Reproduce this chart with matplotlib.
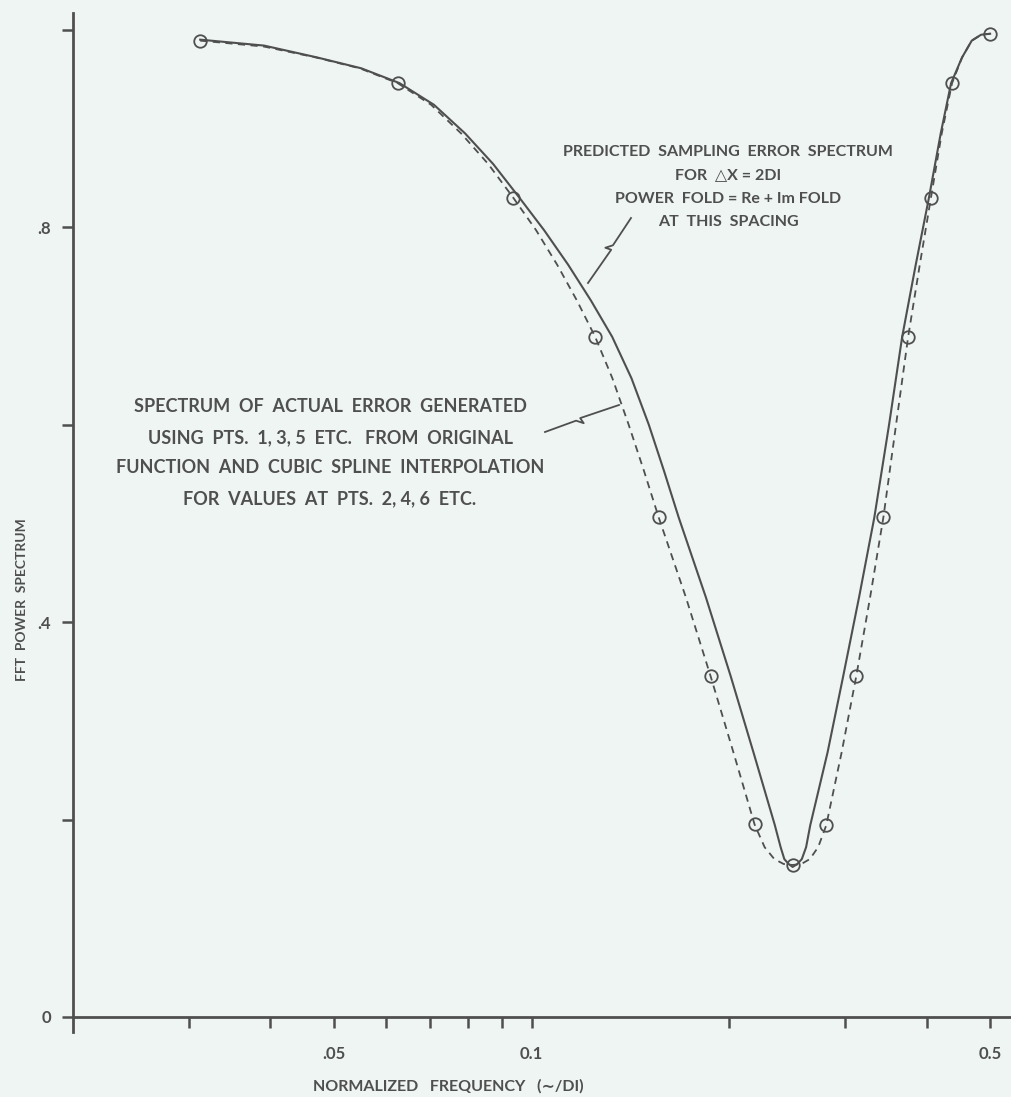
import matplotlib
matplotlib.use("Agg")
import matplotlib.pyplot as plt
from matplotlib.lines import Line2D
from matplotlib.ticker import FixedLocator, FixedFormatter, NullFormatter

########################################
# data
########################################

# sample points (circles), normalized frequency k/32
circle_freq = [0.03125, 0.0625, 0.09375, 0.125, 0.15625, 0.1875, 0.21875, 0.25,
               0.28125, 0.3125, 0.34375, 0.375, 0.40625, 0.4375, 0.5]
circle_power = [0.989, 0.946, 0.830, 0.689, 0.506, 0.345, 0.195, 0.154,
                0.194, 0.345, 0.506, 0.689, 0.830, 0.946, 0.996]

# dashed curve: spectrum of actual error
actual_freq = [0.03125, 0.0391, 0.0469, 0.0547, 0.0625, 0.0703, 0.0781, 0.0859,
               0.09375, 0.1016, 0.1094, 0.1172, 0.125, 0.1328, 0.1406, 0.1484,
               0.15625, 0.1719, 0.1875, 0.2031, 0.21875, 0.2266, 0.2344, 0.2422,
               0.25, 0.2578, 0.2656, 0.2734, 0.28125, 0.2969, 0.3125, 0.3281,
               0.34375, 0.3594, 0.375, 0.3906, 0.40625, 0.4219, 0.4375, 0.4531,
               0.46875, 0.4844, 0.5]
actual_power = [0.989, 0.983, 0.972, 0.961, 0.946, 0.924, 0.895, 0.864,
                0.830, 0.797, 0.762, 0.726, 0.689, 0.647, 0.600, 0.553,
                0.506, 0.425, 0.345, 0.268, 0.195, 0.172, 0.160, 0.155,
                0.154, 0.155, 0.160, 0.172, 0.194, 0.268, 0.345, 0.425,
                0.506, 0.600, 0.689, 0.762, 0.830, 0.895, 0.946, 0.972,
                0.989, 0.995, 0.996]

# solid curve: predicted sampling error spectrum
pred_freq = [0.03125, 0.0391, 0.0471, 0.0550, 0.0629, 0.0710, 0.0792, 0.0874,
             0.0958, 0.1045, 0.1137, 0.1231, 0.1327, 0.1420, 0.1509, 0.1592,
             0.1676, 0.1844, 0.2012, 0.2179, 0.2347, 0.2397, 0.2428, 0.2465,
             0.2500, 0.2542, 0.2582, 0.2621, 0.2659, 0.2826, 0.2985, 0.3156,
             0.3330, 0.3507, 0.3672, 0.3851, 0.4034, 0.4204, 0.4360, 0.4531,
             0.46875, 0.4844, 0.5]
pred_power = [0.990, 0.984, 0.972, 0.961, 0.946, 0.924, 0.895, 0.864,
              0.830, 0.797, 0.762, 0.726, 0.689, 0.647, 0.600, 0.553,
              0.506, 0.425, 0.345, 0.268, 0.195, 0.172, 0.160, 0.155,
              0.152, 0.155, 0.160, 0.172, 0.194, 0.268, 0.345, 0.425,
              0.506, 0.600, 0.689, 0.762, 0.830, 0.895, 0.946, 0.972,
              0.989, 0.995, 0.996]

x_major = [0.05, 0.1, 0.5]
x_major_labels = [".05", "0.1", "0.5"]
x_minor = [0.03, 0.04, 0.06, 0.07, 0.08, 0.09, 0.2, 0.3, 0.4]
y_ticks = [0, 0.2, 0.4, 0.6, 0.8, 1.0]
y_tick_labels = ["0", "", ".4", "", ".8", ""]

pred_text = ["PREDICTED  SAMPLING  ERROR  SPECTRUM",
             "FOR  \u25b3X = 2DI",
             "POWER  FOLD = Re + Im FOLD",
             "AT  THIS  SPACING"]
actual_text = ["SPECTRUM  OF  ACTUAL  ERROR  GENERATED",
               "USING  PTS.  1, 3, 5  ETC.   FROM  ORIGINAL",
               "FUNCTION  AND  CUBIC  SPLINE  INTERPOLATION",
               "FOR  VALUES  AT  PTS.  2, 4, 6  ETC."]

########################################
# style
########################################

W, H = 1011, 1097
BG = "#eef5f3"
INK = "#4f4f4f"
FONT = ["Lato", "DejaVu Sans"]
plt.rcParams["font.family"] = FONT


def px(x, y):
    # pixel position of the reference -> figure fraction
    return x / W, 1 - y / H


def leader(fig, x0, y0, x1, y1):
    # straight leader with a small lightning kink in the middle
    dx, dy = x1 - x0, y1 - y0
    ln = (dx ** 2 + dy ** 2) ** 0.5
    nx, ny = -dy / ln, dx / ln
    a = (x0 + 0.42 * dx, y0 + 0.42 * dy)
    b = (x0 + 0.50 * dx + 5 * nx, y0 + 0.50 * dy + 5 * ny)
    c = (x0 + 0.48 * dx - 1 * nx, y0 + 0.48 * dy - 1 * ny)
    pts = [(x0, y0), a, b, c, (x1, y1)]
    xs = [p[0] / W for p in pts]
    ys = [1 - p[1] / H for p in pts]
    fig.add_artist(Line2D(xs, ys, transform=fig.transFigure, color=INK, lw=1.3))


fig = plt.figure(figsize=(W / 100, H / 100), dpi=100, facecolor=BG)
ax = fig.add_axes([73 / W, 1 - 1032 / H, 1 - 73 / W, (1032 - 13) / H])
ax.set_facecolor(BG)

ax.plot(pred_freq, pred_power, color=INK, lw=1.5, solid_joinstyle="round")
ax.plot(actual_freq, actual_power, color=INK, lw=1.3, linestyle=(0, (4, 3)))
ax.plot(circle_freq, circle_power, linestyle="none", marker="o", ms=9,
        mfc="none", mec=INK, mew=1.3)

ax.set_xscale("log")
ax.set_xlim(0.02, 0.538)
ax.set_ylim(-0.0152, 1.017)

for s in ["top", "right"]:
    ax.spines[s].set_visible(False)
ax.spines["bottom"].set_position(("data", 0))
for s in ["left", "bottom"]:
    ax.spines[s].set_color(INK)
    ax.spines[s].set_linewidth(2.0)

ax.xaxis.set_major_locator(FixedLocator(x_major))
ax.xaxis.set_major_formatter(FixedFormatter(x_major_labels))
ax.xaxis.set_minor_locator(FixedLocator(x_minor))
ax.xaxis.set_minor_formatter(NullFormatter())
ax.set_yticks(y_ticks)
ax.set_yticklabels(y_tick_labels)

ax.tick_params(axis="both", which="both", direction="out", length=8, width=1.8,
               color=INK, labelcolor=INK, labelsize=12)
ax.tick_params(axis="x", pad=13)
ax.tick_params(axis="y", pad=8)
for lab in ax.get_xticklabels() + ax.get_yticklabels():
    lab.set_fontweight("bold")

# axis titles
fig.text(*px(313, 1086), "NORMALIZED   FREQUENCY   (\u223c/DI)", ha="left",
         va="center", fontsize=11.5, color=INK, fontweight="bold")
fig.text(*px(22, 600), "FFT  POWER  SPECTRUM", ha="center", va="center",
         rotation=90, fontsize=10, color=INK, fontweight="bold")

# annotations
for i, line in enumerate(pred_text):
    fig.text(*px(728, 152 + i * 23.5), line, ha="center", va="center",
             fontsize=11.5, color=INK, fontweight="bold")
for i, line in enumerate(actual_text):
    fig.text(*px(330, 407 + i * 30.5), line, ha="center", va="center",
             fontsize=13, color=INK, fontweight="bold")

leader(fig, 631, 218, 588, 283)
leader(fig, 545, 432, 619, 405)

fig.savefig("out.png", dpi=100, facecolor=BG)
